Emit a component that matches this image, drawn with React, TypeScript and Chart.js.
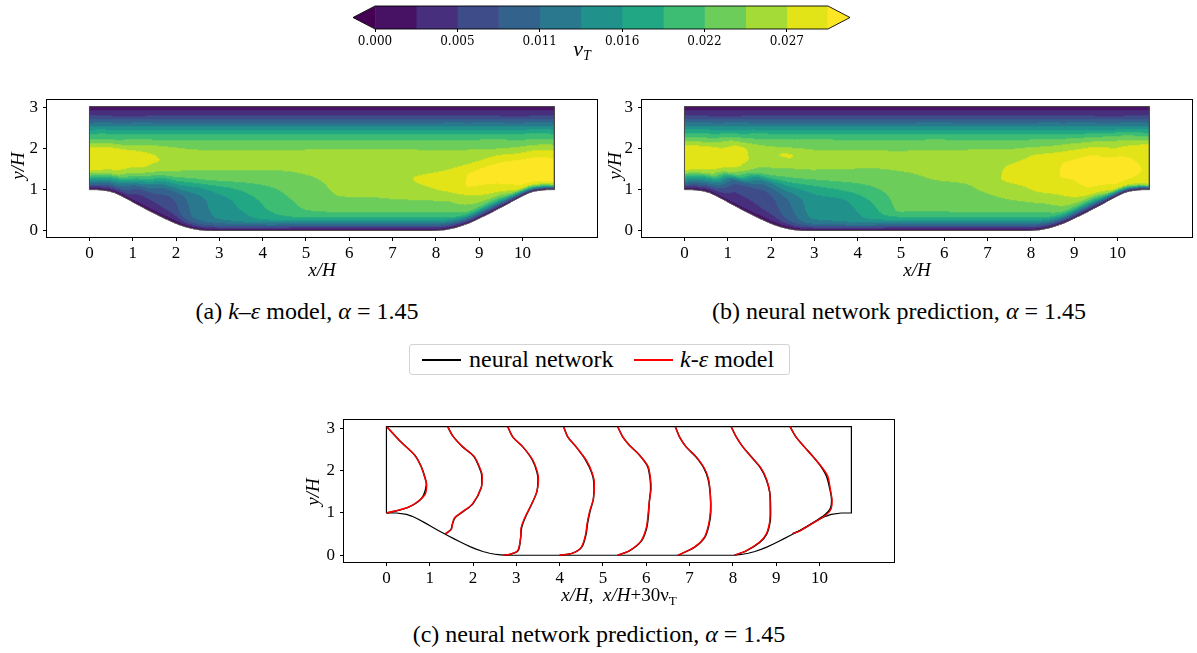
import React, { useEffect, useRef } from "react";
import { Chart, registerables } from "chart.js";
Chart.register(...registerables);

// ---------------- geometry (periodic hill, alpha = 1.45) ----------------
const TOP = 3.036;
const LENGTH = 10.736;
const hillX = [0, 0.233, 0.466, 0.596, 0.725, 0.88, 1.036, 1.165, 1.295, 1.424, 1.554, 1.683, 1.813, 1.942, 2.071, 2.227, 2.382, 2.538, 2.693, 2.796];
const hillY = [1.0, 0.998, 0.964, 0.919, 0.857, 0.77, 0.679, 0.604, 0.532, 0.462, 0.393, 0.325, 0.259, 0.197, 0.143, 0.089, 0.047, 0.018, 0.003, 0];

// ---------------- colour levels (nu_T) ----------------
const cbLevels = [0, 0.0027, 0.0054, 0.0081, 0.0108, 0.0135, 0.0162, 0.0189, 0.0216, 0.0243, 0.027, 0.0297];
const cbTicks = [0, 0.0054, 0.0108, 0.0162, 0.0216, 0.027];
const binColors = ["#471164", "#472f7d", "#3e4c8a", "#33638d", "#2a788e", "#21918c", "#22a785", "#3dbc74", "#6ccd5a", "#a5db36", "#e2e418"];
const underColor = "#440154";
const overColor = "#fde725";

// ---------------- nu_T field samples (x 1e-3) on columns x, rows eta ----------------
const colX = [0, 0.6, 1.2, 1.8, 2.4, 3.0, 3.6, 4.3, 5.0, 5.8, 6.6, 7.4, 8.2, 8.8, 9.4, 10.0, 10.736];
const etaRows = [0, 0.012, 0.03, 0.06, 0.1, 0.16, 0.24, 0.33, 0.42, 0.51, 0.6, 0.68, 0.75, 0.81, 0.86, 0.9, 0.935, 0.965, 0.985, 1];

const nuKEps: number[][] = [
  [0, 2.0, 4.5, 8.5, 13.0, 21.0, 27.5, 28.5, 28.3, 27.0, 21.8, 18.4, 14.3, 10.4, 7.2, 4.84, 3.45, 2.06, 0.9, 0],
  [0, 1.8, 4.0, 7.5, 11.5, 17.5, 26.0, 28.3, 28.5, 27.3, 22.3, 19.0, 14.8, 10.9, 7.6, 5.0, 3.5, 2.1, 0.9, 0],
  [0, 1.5, 2.8, 3.8, 5.0, 7.5, 15.0, 24.0, 27.5, 27.8, 25.0, 21.3, 17.1, 13.0, 9.1, 5.8, 4.1, 2.5, 1.0, 0],
  [0, 1.5, 2.9, 4.2, 6.0, 7.0, 9.0, 16.0, 24.0, 26.5, 26.0, 22.5, 19.4, 14.7, 10.4, 6.9, 4.4, 2.8, 1.2, 0],
  [0, 2.5, 5.5, 9.0, 11.0, 11.5, 12.0, 15.5, 22.0, 24.8, 25.2, 23.3, 20.5, 15.9, 11.4, 7.7, 4.7, 2.9, 1.3, 0],
  [0, 3.0, 7.0, 11.0, 13.8, 14.5, 15.0, 17.5, 22.5, 24.7, 25.2, 23.4, 20.7, 16.1, 11.6, 7.9, 4.7, 2.95, 1.34, 0],
  [0, 3.0, 7.5, 12.5, 15.5, 16.5, 17.5, 19.5, 22.8, 24.6, 25.2, 23.4, 20.7, 16.1, 11.6, 7.9, 4.7, 2.95, 1.34, 0],
  [0, 3.0, 7.5, 13.0, 17.5, 19.5, 20.5, 21.5, 23.2, 24.6, 25.2, 23.4, 20.7, 16.1, 11.6, 7.9, 4.7, 2.95, 1.34, 0],
  [0, 2.8, 6.5, 12.0, 18.5, 21.5, 22.3, 23.0, 24.0, 24.8, 25.3, 23.4, 20.7, 16.1, 11.6, 7.9, 4.7, 2.95, 1.34, 0],
  [0, 2.8, 6.5, 12.0, 18.5, 22.0, 24.0, 24.6, 24.9, 25.1, 25.3, 23.4, 20.7, 16.1, 11.6, 7.9, 4.7, 2.95, 1.34, 0],
  [0, 2.8, 6.5, 12.0, 18.0, 22.0, 24.0, 24.8, 25.3, 25.6, 25.5, 23.4, 20.7, 16.1, 11.6, 7.9, 4.7, 2.95, 1.34, 0],
  [0, 2.9, 6.8, 12.5, 18.0, 22.0, 24.1, 26.3, 26.9, 26.0, 25.5, 23.4, 20.7, 16.1, 11.6, 7.9, 4.7, 2.95, 1.34, 0],
  [0, 3.0, 7.0, 13.0, 19.0, 22.5, 24.5, 27.3, 27.8, 26.5, 25.2, 23.4, 20.6, 16.0, 11.6, 7.8, 4.7, 2.95, 1.3, 0],
  [0, 3.5, 8.0, 15.0, 21.5, 24.5, 27.2, 30.0, 29.8, 27.0, 25.0, 22.8, 19.7, 15.1, 10.8, 7.2, 4.4, 2.8, 1.25, 0],
  [0, 3.0, 7.0, 14.0, 21.0, 26.5, 29.5, 30.5, 30.2, 27.5, 24.0, 21.7, 17.7, 13.5, 9.4, 6.1, 4.1, 2.55, 1.1, 0],
  [0, 4.0, 10.0, 20.0, 28.5, 30.5, 31.0, 30.5, 29.5, 26.0, 22.5, 19.6, 15.2, 11.3, 7.9, 5.1, 3.6, 2.2, 0.9, 0],
  [0, 5.0, 14.0, 25.0, 30.0, 31.0, 31.0, 30.3, 29.0, 25.5, 21.8, 18.4, 14.3, 10.4, 7.2, 4.84, 3.45, 2.06, 0.9, 0],
];

const nuNN: number[][] = [
  [0, 2.0, 4.5, 8.5, 13.0, 19.5, 27.3, 28.5, 28.8, 27.6, 23.0, 18.6, 14.5, 10.5, 7.3, 4.9, 3.5, 2.1, 0.9, 0],
  [0, 1.8, 3.5, 6.5, 10.5, 16.5, 25.5, 28.3, 28.6, 27.8, 23.5, 19.2, 15.0, 11.0, 7.6, 5.0, 3.5, 2.1, 0.9, 0],
  [0, 1.5, 2.8, 3.5, 4.5, 6.0, 9.0, 23.0, 27.5, 28.0, 27.2, 22.5, 17.3, 13.1, 9.1, 5.8, 4.1, 2.5, 1.0, 0],
  [0, 1.5, 2.8, 3.6, 5.5, 6.2, 7.5, 12.0, 22.5, 25.5, 26.5, 23.0, 19.6, 14.8, 10.4, 6.9, 4.4, 2.8, 1.2, 0],
  [0, 2.0, 4.5, 7.5, 9.0, 10.0, 11.0, 15.0, 21.5, 24.8, 27.2, 23.5, 20.6, 15.9, 11.4, 7.7, 4.7, 2.9, 1.3, 0],
  [0, 3.0, 7.0, 11.5, 13.8, 14.5, 15.0, 17.5, 22.0, 24.6, 25.0, 23.6, 20.8, 16.1, 11.6, 7.9, 4.7, 2.95, 1.34, 0],
  [0, 3.0, 7.5, 12.5, 14.5, 15.0, 15.8, 19.0, 22.5, 24.5, 25.0, 23.4, 20.7, 16.0, 11.6, 7.9, 4.7, 2.95, 1.34, 0],
  [0, 3.0, 7.5, 13.0, 16.5, 17.8, 19.0, 21.0, 22.8, 24.4, 25.0, 23.3, 20.6, 16.1, 11.5, 7.9, 4.7, 2.95, 1.34, 0],
  [0, 2.8, 6.5, 12.0, 18.0, 21.8, 22.3, 22.8, 23.6, 24.6, 25.0, 23.2, 20.7, 16.2, 11.6, 7.9, 4.7, 2.95, 1.34, 0],
  [0, 2.8, 6.5, 12.0, 18.0, 21.8, 22.8, 23.6, 24.4, 24.9, 25.2, 23.4, 20.8, 16.1, 11.7, 7.9, 4.7, 2.95, 1.34, 0],
  [0, 2.8, 6.5, 12.0, 18.0, 22.0, 23.2, 24.1, 24.6, 25.2, 25.3, 23.4, 20.6, 16.0, 11.6, 7.9, 4.7, 2.95, 1.34, 0],
  [0, 2.9, 6.8, 12.5, 18.0, 22.0, 24.0, 25.5, 27.2, 27.0, 25.8, 23.4, 20.7, 16.1, 11.6, 7.9, 4.7, 2.95, 1.34, 0],
  [0, 3.0, 7.0, 13.0, 19.0, 22.5, 25.0, 27.5, 28.2, 28.0, 27.3, 24.0, 20.6, 16.0, 11.6, 7.8, 4.7, 2.95, 1.3, 0],
  [0, 3.5, 8.0, 15.0, 21.5, 25.0, 27.3, 29.0, 30.0, 29.8, 27.5, 24.0, 19.7, 15.1, 10.8, 7.2, 4.4, 2.8, 1.25, 0],
  [0, 3.0, 7.0, 14.0, 21.0, 27.5, 30.0, 30.5, 30.5, 30.0, 27.2, 23.0, 18.0, 13.5, 9.4, 6.1, 4.1, 2.55, 1.1, 0],
  [0, 4.0, 10.0, 20.0, 28.5, 30.0, 30.5, 30.3, 29.9, 27.8, 25.0, 21.0, 15.5, 11.3, 7.9, 5.1, 3.6, 2.2, 0.9, 0],
  [0, 5.0, 14.0, 26.0, 28.8, 29.2, 29.4, 29.2, 28.8, 28.0, 24.0, 18.8, 14.5, 10.4, 7.2, 4.84, 3.45, 2.06, 0.9, 0],
];

// ---------------- profiles x/H + 30 nu_T (panel c) ----------------
const keProfiles: number[][][] = [
  [[0.0, 1.0], [0.22, 1.05], [0.53, 1.145], [0.76, 1.3], [0.9, 1.45], [0.93, 1.68], [0.9, 1.79], [0.8, 2.1], [0.647, 2.37], [0.3, 2.71], [0.008, 3.036]],
  [[1.36, 0.5], [1.5, 0.61], [1.52, 0.72], [1.57, 0.88], [1.76, 1.03], [1.99, 1.22], [2.19, 1.6], [2.21, 1.87], [2.19, 1.98], [2.03, 2.33], [1.76, 2.56], [1.53, 2.82], [1.416, 3.036]],
  [[2.69, 0.0], [2.84, 0.02], [3.03, 0.11], [3.1, 0.42], [3.11, 0.65], [3.19, 0.88], [3.34, 1.18], [3.47, 1.49], [3.51, 1.76], [3.49, 1.95], [3.38, 2.25], [3.15, 2.56], [2.92, 2.79], [2.8, 3.036]],
  [[4.0, 0.0], [4.3, 0.05], [4.5, 0.19], [4.6, 0.5], [4.63, 0.73], [4.69, 1.03], [4.78, 1.34], [4.8, 1.72], [4.75, 1.95], [4.61, 2.25], [4.38, 2.56], [4.19, 2.79], [4.09, 3.036]],
  [[5.34, 0.0], [5.61, 0.11], [5.88, 0.34], [6.0, 0.65], [6.04, 0.96], [6.07, 1.26], [6.11, 1.56], [6.1, 1.79], [6.04, 2.1], [5.84, 2.37], [5.61, 2.6], [5.46, 2.79], [5.34, 3.036]],
  [[6.73, 0.0], [7.11, 0.19], [7.34, 0.42], [7.44, 0.73], [7.48, 1.03], [7.48, 1.41], [7.44, 1.79], [7.34, 2.06], [7.15, 2.33], [6.92, 2.56], [6.77, 2.79], [6.67, 3.036]],
  [[8.04, 0.0], [8.31, 0.11], [8.61, 0.305], [8.77, 0.5], [8.85, 0.8], [8.86, 1.1], [8.85, 1.49], [8.78, 1.79], [8.65, 2.06], [8.42, 2.33], [8.23, 2.56], [8.08, 2.79], [7.96, 3.036]],
  [[9.38, 0.51], [9.54, 0.57], [9.85, 0.76], [10.15, 0.95], [10.27, 1.1], [10.29, 1.3], [10.25, 1.56], [10.19, 1.87], [10.04, 2.1], [9.85, 2.33], [9.65, 2.56], [9.46, 2.79], [9.32, 3.036]],
];
const nnProfiles: number[][][] = [
  [[0.0, 1.0], [0.2, 1.04], [0.5, 1.13], [0.74, 1.27], [0.86, 1.42], [0.92, 1.66], [0.9, 1.8], [0.8, 2.1], [0.65, 2.37], [0.3, 2.71], [0.008, 3.036]],
  [[1.36, 0.5], [1.49, 0.61], [1.52, 0.72], [1.58, 0.88], [1.77, 1.03], [2.0, 1.22], [2.19, 1.6], [2.2, 1.87], [2.18, 1.98], [2.02, 2.33], [1.76, 2.56], [1.53, 2.82], [1.416, 3.036]],
  [[2.69, 0.0], [2.85, 0.02], [3.04, 0.11], [3.1, 0.42], [3.12, 0.65], [3.2, 0.88], [3.34, 1.18], [3.47, 1.49], [3.5, 1.76], [3.48, 1.95], [3.37, 2.25], [3.15, 2.56], [2.92, 2.79], [2.8, 3.036]],
  [[4.0, 0.0], [4.3, 0.05], [4.51, 0.19], [4.61, 0.5], [4.64, 0.73], [4.7, 1.03], [4.78, 1.34], [4.79, 1.72], [4.74, 1.95], [4.6, 2.25], [4.38, 2.56], [4.19, 2.79], [4.09, 3.036]],
  [[5.34, 0.0], [5.62, 0.11], [5.89, 0.34], [6.01, 0.65], [6.05, 0.96], [6.07, 1.26], [6.1, 1.56], [6.09, 1.79], [6.03, 2.1], [5.84, 2.37], [5.61, 2.6], [5.46, 2.79], [5.34, 3.036]],
  [[6.73, 0.0], [7.12, 0.19], [7.35, 0.42], [7.45, 0.73], [7.49, 1.03], [7.48, 1.41], [7.43, 1.79], [7.33, 2.06], [7.14, 2.33], [6.92, 2.56], [6.77, 2.79], [6.67, 3.036]],
  [[8.04, 0.0], [8.32, 0.11], [8.62, 0.305], [8.78, 0.5], [8.86, 0.8], [8.87, 1.1], [8.85, 1.49], [8.77, 1.79], [8.64, 2.06], [8.42, 2.33], [8.23, 2.56], [8.08, 2.79], [7.96, 3.036]],
  [[9.38, 0.51], [9.55, 0.58], [9.86, 0.77], [10.13, 0.96], [10.25, 1.1], [10.28, 1.3], [10.24, 1.56], [10.16, 1.87], [10.03, 2.1], [9.85, 2.33], [9.65, 2.56], [9.46, 2.79], [9.32, 3.036]],
];

const xTickValues = [0, 1, 2, 3, 4, 5, 6, 7, 8, 9, 10];
const yTickValues = [0, 1, 2, 3];
const X_MIN = -0.98, X_MAX = 11.72, Y_MIN = -0.16, Y_MAX = 3.19;

const SERIF = "'Liberation Serif', 'DejaVu Serif', serif";

// ---------------- helpers ----------------
function interp(xs: number[], ys: number[], x: number) {
  if (x <= xs[0]) return ys[0];
  for (let i = 0; i < xs.length - 1; i++) {
    if (x <= xs[i + 1]) {
      const t = (x - xs[i]) / (xs[i + 1] - xs[i]);
      return ys[i] + t * (ys[i + 1] - ys[i]);
    }
  }
  return ys[ys.length - 1];
}
function wallY(x: number) {
  const hl = hillX[hillX.length - 1];
  if (x <= hl) return interp(hillX, hillY, x);
  if (x >= LENGTH - hl) return interp(hillX, hillY, LENGTH - x);
  return 0;
}
function findSeg(arr: number[], v: number) {
  for (let i = 0; i < arr.length - 1; i++) if (v <= arr[i + 1]) return i;
  return arr.length - 2;
}
// monotone (Fritsch-Carlson style) tangents for smooth rendering between samples
function tangents(xs: number[], vs: number[]) {
  const n = xs.length;
  const d: number[] = [];
  for (let i = 0; i < n - 1; i++) d.push((vs[i + 1] - vs[i]) / (xs[i + 1] - xs[i]));
  const m: number[] = new Array(n);
  m[0] = d[0];
  m[n - 1] = d[n - 2];
  for (let i = 1; i < n - 1; i++) {
    if (d[i - 1] * d[i] <= 0) m[i] = 0;
    else m[i] = 2 / (1 / d[i - 1] + 1 / d[i]);
  }
  return m;
}
function hermite(xs: number[], vs: number[], ms: number[], x: number) {
  const i = findSeg(xs, x);
  const h = xs[i + 1] - xs[i];
  const t = Math.min(1, Math.max(0, (x - xs[i]) / h));
  const t2 = t * t, t3 = t2 * t;
  return (2 * t3 - 3 * t2 + 1) * vs[i] + (t3 - 2 * t2 + t) * h * ms[i] + (-2 * t3 + 3 * t2) * vs[i + 1] + (t3 - t2) * h * ms[i + 1];
}
function hexRgb(h: string) {
  return [parseInt(h.slice(1, 3), 16), parseInt(h.slice(3, 5), 16), parseInt(h.slice(5, 7), 16)];
}
const binRgb = binColors.map(hexRgb);
const underRgb = hexRgb(underColor);
const overRgb = hexRgb(overColor);
function colorFor(v1e3: number) {
  const v = v1e3 / 1000;
  if (v < cbLevels[0]) return underRgb;
  if (v >= cbLevels[cbLevels.length - 1]) return overRgb;
  const k = findSeg(cbLevels, v);
  return binRgb[Math.min(k, binRgb.length - 1)];
}

function outlinePoints() {
  const pts: { x: number; y: number }[] = [];
  pts.push({ x: 0, y: hillY[0] });
  pts.push({ x: 0, y: TOP });
  pts.push({ x: LENGTH, y: TOP });
  for (let i = 0; i < hillX.length; i++) pts.push({ x: LENGTH - hillX[i], y: hillY[i] });
  for (let i = hillX.length - 1; i >= 0; i--) pts.push({ x: hillX[i], y: hillY[i] });
  return pts;
}

type Part = { t: string; font: string; dy?: number };
function drawRich(ctx: CanvasRenderingContext2D, parts: Part[], cx: number, baseY: number, rotate = false) {
  ctx.save();
  ctx.translate(cx, baseY);
  if (rotate) ctx.rotate(-Math.PI / 2);
  ctx.textBaseline = "alphabetic";
  ctx.textAlign = "left";
  ctx.fillStyle = "#000";
  let total = 0;
  parts.forEach((p) => { ctx.font = p.font; total += ctx.measureText(p.t).width; });
  let x = -total / 2;
  parts.forEach((p) => {
    ctx.font = p.font;
    ctx.fillText(p.t, x, p.dy || 0);
    x += ctx.measureText(p.t).width;
  });
  ctx.restore();
}

const boxPlugin = {
  id: "box",
  afterDatasetsDraw(chart: any) {
    const { ctx, chartArea: a } = chart;
    ctx.save();
    ctx.strokeStyle = "#000";
    ctx.lineWidth = 1;
    ctx.strokeRect(Math.round(a.left) - 0.5, Math.round(a.top) - 0.5, Math.round(a.right - a.left) + 1, Math.round(a.bottom - a.top) + 1);
    ctx.restore();
  },
};

function fieldPlugin(grid: number[][]) {
  // per eta-row tangents along x
  const nRows = etaRows.length;
  const rowVals: number[][] = [];
  const rowTan: number[][] = [];
  for (let r = 0; r < nRows; r++) {
    const vs = grid.map((col) => col[r]);
    rowVals.push(vs);
    rowTan.push(tangents(colX, vs));
  }
  return {
    id: "field",
    beforeDatasetsDraw(chart: any) {
      const { ctx, chartArea: a, scales } = chart;
      const xs = scales.x, ys = scales.y;
      const w = Math.round(a.right - a.left), h = Math.round(a.bottom - a.top);
      const off = document.createElement("canvas");
      off.width = w; off.height = h;
      const octx = off.getContext("2d")!;
      const img = octx.createImageData(w, h);
      const colVals: number[] = new Array(nRows);
      for (let i = 0; i < w; i++) {
        const x = xs.getValueForPixel(a.left + i + 0.5);
        if (x < 0 || x > LENGTH) continue;
        const yb = wallY(x);
        for (let r = 0; r < nRows; r++) colVals[r] = hermite(colX, rowVals[r], rowTan[r], x);
        const mt = tangents(etaRows, colVals);
        for (let j = 0; j < h; j++) {
          const y = ys.getValueForPixel(a.top + j + 0.5);
          if (y < yb || y > TOP) continue;
          const eta = (y - yb) / (TOP - yb);
          const v = hermite(etaRows, colVals, mt, eta);
          const c = colorFor(v);
          const k = (j * w + i) * 4;
          img.data[k] = c[0]; img.data[k + 1] = c[1]; img.data[k + 2] = c[2]; img.data[k + 3] = 255;
        }
      }
      octx.putImageData(img, 0, 0);
      ctx.drawImage(off, a.left, a.top);
    },
  };
}

function titlesPlugin(draw: (ctx: CanvasRenderingContext2D) => void) {
  return { id: "titles", afterDraw(chart: any) { draw(chart.ctx); } };
}

function axes(yWidth: number, xHeight: number) {
  const tickFont = { family: SERIF, size: 17 };
  return {
    x: {
      type: "linear", min: X_MIN, max: X_MAX,
      afterBuildTicks: (s: any) => { s.ticks = xTickValues.map((v) => ({ value: v })); },
      afterFit: (s: any) => { s.height = xHeight; },
      grid: { display: true, drawOnChartArea: false, drawTicks: true, tickLength: 4, color: "#000", lineWidth: 1 },
      border: { display: false },
      ticks: { color: "#000", font: tickFont, padding: 2, maxRotation: 0, autoSkip: false, callback: (v: any) => String(v) },
    },
    y: {
      type: "linear", min: Y_MIN, max: Y_MAX,
      afterBuildTicks: (s: any) => { s.ticks = yTickValues.map((v) => ({ value: v })); },
      afterFit: (s: any) => { s.width = yWidth; },
      grid: { display: true, drawOnChartArea: false, drawTicks: true, tickLength: 4, color: "#000", lineWidth: 1 },
      border: { display: false },
      ticks: { color: "#000", font: tickFont, padding: 5, autoSkip: false, callback: (v: any) => String(v) },
    },
  };
}

const itT = `italic 19px ${SERIF}`;
const rmT = `19px ${SERIF}`;

function contourConfig(grid: number[][], yWidth: number, rightPad: number, yTitleX: number, xTitleX: number) {
  return {
    type: "scatter",
    data: {
      datasets: [
        { data: outlinePoints(), showLine: true, pointRadius: 0, borderColor: "#4a4a4a", borderWidth: 1, fill: false },
      ],
    },
    options: {
      animation: false, responsive: false, devicePixelRatio: 1,
      layout: { padding: { left: 0, right: rightPad, top: 7, bottom: 0 } },
      plugins: { legend: { display: false }, tooltip: { enabled: false } },
      scales: axes(yWidth, 48),
    },
    plugins: [
      fieldPlugin(grid), boxPlugin,
      titlesPlugin((ctx) => {
        drawRich(ctx, [{ t: "y/H", font: itT }], yTitleX, 81, true);
        drawRich(ctx, [{ t: "x/H", font: itT }], xTitleX, 191);
      }),
    ],
  };
}

export default function App() {
  const cbRef = useRef<HTMLCanvasElement>(null);
  const aRef = useRef<HTMLCanvasElement>(null);
  const bRef = useRef<HTMLCanvasElement>(null);
  const cRef = useRef<HTMLCanvasElement>(null);

  useEffect(() => {
    document.body.style.margin = "0";
    const charts: Chart[] = [];

    // colour bar
    const cbDatasets = binColors.map((c, i) => ({
      data: [[cbLevels[i], cbLevels[i + 1]]],
      backgroundColor: c, borderWidth: 0, grouped: false, barPercentage: 1, categoryPercentage: 1,
    }));
    charts.push(new Chart(cbRef.current!, {
      type: "bar",
      data: { labels: ["nu"], datasets: cbDatasets as any },
      options: {
        indexAxis: "y", animation: false, responsive: false, devicePixelRatio: 1,
        layout: { padding: { left: 35, right: 32, top: 6, bottom: 0 } },
        plugins: { legend: { display: false }, tooltip: { enabled: false } },
        scales: {
          x: {
            type: "linear", min: cbLevels[0], max: cbLevels[cbLevels.length - 1],
            afterBuildTicks: (s: any) => { s.ticks = cbTicks.map((v) => ({ value: v })); },
            afterFit: (s: any) => { s.height = 36; },
            grid: { display: true, drawOnChartArea: false, drawTicks: true, tickLength: 3, color: "#000" },
            border: { display: false },
            ticks: { color: "#000", font: { family: "'DejaVu Serif', serif", size: 12 }, padding: 3, maxRotation: 0, autoSkip: false, callback: (v: any) => Number(v).toFixed(3) },
          },
          y: { display: false },
        },
      } as any,
      plugins: [{
        id: "cbext",
        afterDatasetsDraw(chart: any) {
          const { ctx, chartArea: a, scales } = chart;
          const x0 = scales.x.getPixelForValue(cbLevels[0]);
          const x1 = scales.x.getPixelForValue(cbLevels[cbLevels.length - 1]);
          const ext = 22;
          const mid = (a.top + a.bottom) / 2;
          ctx.save();
          ctx.fillStyle = underColor;
          ctx.beginPath(); ctx.moveTo(x0 + 0.5, a.top); ctx.lineTo(x0 - ext, mid); ctx.lineTo(x0 + 0.5, a.bottom); ctx.closePath(); ctx.fill();
          ctx.fillStyle = overColor;
          ctx.beginPath(); ctx.moveTo(x1 - 0.5, a.top); ctx.lineTo(x1 + ext, mid); ctx.lineTo(x1 - 0.5, a.bottom); ctx.closePath(); ctx.fill();
          ctx.strokeStyle = "#000"; ctx.lineWidth = 0.9;
          ctx.beginPath();
          ctx.moveTo(x0, a.top); ctx.lineTo(x1, a.top); ctx.lineTo(x1 + ext, mid); ctx.lineTo(x1, a.bottom);
          ctx.lineTo(x0, a.bottom); ctx.lineTo(x0 - ext, mid); ctx.closePath(); ctx.stroke();
          ctx.restore();
        },
        afterDraw(chart: any) {
          drawRich(chart.ctx, [
            { t: "ν", font: `italic 22px ${SERIF}` },
            { t: "T", font: `italic 14px ${SERIF}`, dy: 4 },
          ], 242, 56);
        },
      }],
    }));

    charts.push(new Chart(aRef.current!, contourConfig(nuKEps, 47, 3, 24, 322) as any));
    charts.push(new Chart(bRef.current!, contourConfig(nuNN, 42, 5, 21, 317) as any));

    // profiles panel: red k-eps drawn on top (lowest order), then black NN, then outline
    const redSets = keProfiles.map((p) => ({
      data: p.map(([x, y]) => ({ x, y })), showLine: true, pointRadius: 0, borderColor: "#ff0000", borderWidth: 1.4, tension: 0.3, fill: false, order: 0,
    }));
    const blackSets = nnProfiles.map((p) => ({
      data: p.map(([x, y]) => ({ x, y })), showLine: true, pointRadius: 0, borderColor: "#000", borderWidth: 1.5, tension: 0.3, fill: false, order: 1,
    }));
    charts.push(new Chart(cRef.current!, {
      type: "scatter",
      data: {
        datasets: [
          { data: outlinePoints(), showLine: true, pointRadius: 0, borderColor: "#000", borderWidth: 1.2, fill: false, order: 2 },
          ...blackSets,
          ...redSets,
        ],
      },
      options: {
        animation: false, responsive: false, devicePixelRatio: 1,
        layout: { padding: { left: 0, right: 6, top: 12, bottom: 0 } },
        plugins: { legend: { display: false }, tooltip: { enabled: false } },
        scales: axes(44, 58) as any,
      },
      plugins: [
        boxPlugin,
        titlesPlugin((ctx) => {
          drawRich(ctx, [{ t: "y/H", font: itT }], 19, 87, true);
          drawRich(ctx, [
            { t: "x/H,", font: itT },
            { t: "  ", font: rmT },
            { t: "x/H", font: itT },
            { t: "+30ν", font: rmT },
            { t: "T", font: `13px ${SERIF}`, dy: 4 },
          ], 319, 196);
        }),
      ],
    } as any));

    return () => charts.forEach((c) => c.destroy());
  }, []);

  const cap: React.CSSProperties = {
    position: "absolute", transform: "translate(-50%, -50%)", whiteSpace: "nowrap",
    fontFamily: SERIF, fontSize: 24, color: "#000", lineHeight: 1,
  };
  const abs = (l: number, t: number): React.CSSProperties => ({ position: "absolute", left: l, top: t });

  return (
    <div style={{ position: "absolute", left: 0, top: 0, width: 1197, height: 653, background: "#fff", overflow: "hidden" }}>
      <canvas ref={cbRef} width={520} height={65} style={abs(340, 0)} />
      <canvas ref={aRef} width={600} height={200} style={abs(0, 85)} />
      <canvas ref={bRef} width={597} height={200} style={abs(600, 85)} />
      <canvas ref={cRef} width={600} height={215} style={abs(300, 405)} />

      <div style={{ ...cap, left: 307, top: 311 }}>(a) <i>k</i>–<i>ε</i> model, <i>α</i> = 1.45</div>
      <div style={{ ...cap, left: 899, top: 311 }}>(b) neural network prediction, <i>α</i> = 1.45</div>
      <div style={{ ...cap, left: 599, top: 634 }}>(c) neural network prediction, <i>α</i> = 1.45</div>

      <div style={{ position: "absolute", left: 409, top: 344, width: 381, height: 31, border: "1px solid #d3d3d3", borderRadius: 3, boxSizing: "border-box", fontFamily: SERIF, fontSize: 24, color: "#000" }}>
        <div style={{ position: "absolute", left: 12, top: 14, width: 39, height: 0, borderTop: "2px solid #000" }} />
        <div style={{ position: "absolute", left: 59, top: 0, lineHeight: "29px", whiteSpace: "nowrap" }}>neural network</div>
        <div style={{ position: "absolute", left: 224, top: 14, width: 39, height: 0, borderTop: "2px solid #ff0000" }} />
        <div style={{ position: "absolute", left: 270, top: 0, lineHeight: "29px", whiteSpace: "nowrap" }}><i>k</i>-<i>ε</i> model</div>
      </div>
    </div>
  );
}
